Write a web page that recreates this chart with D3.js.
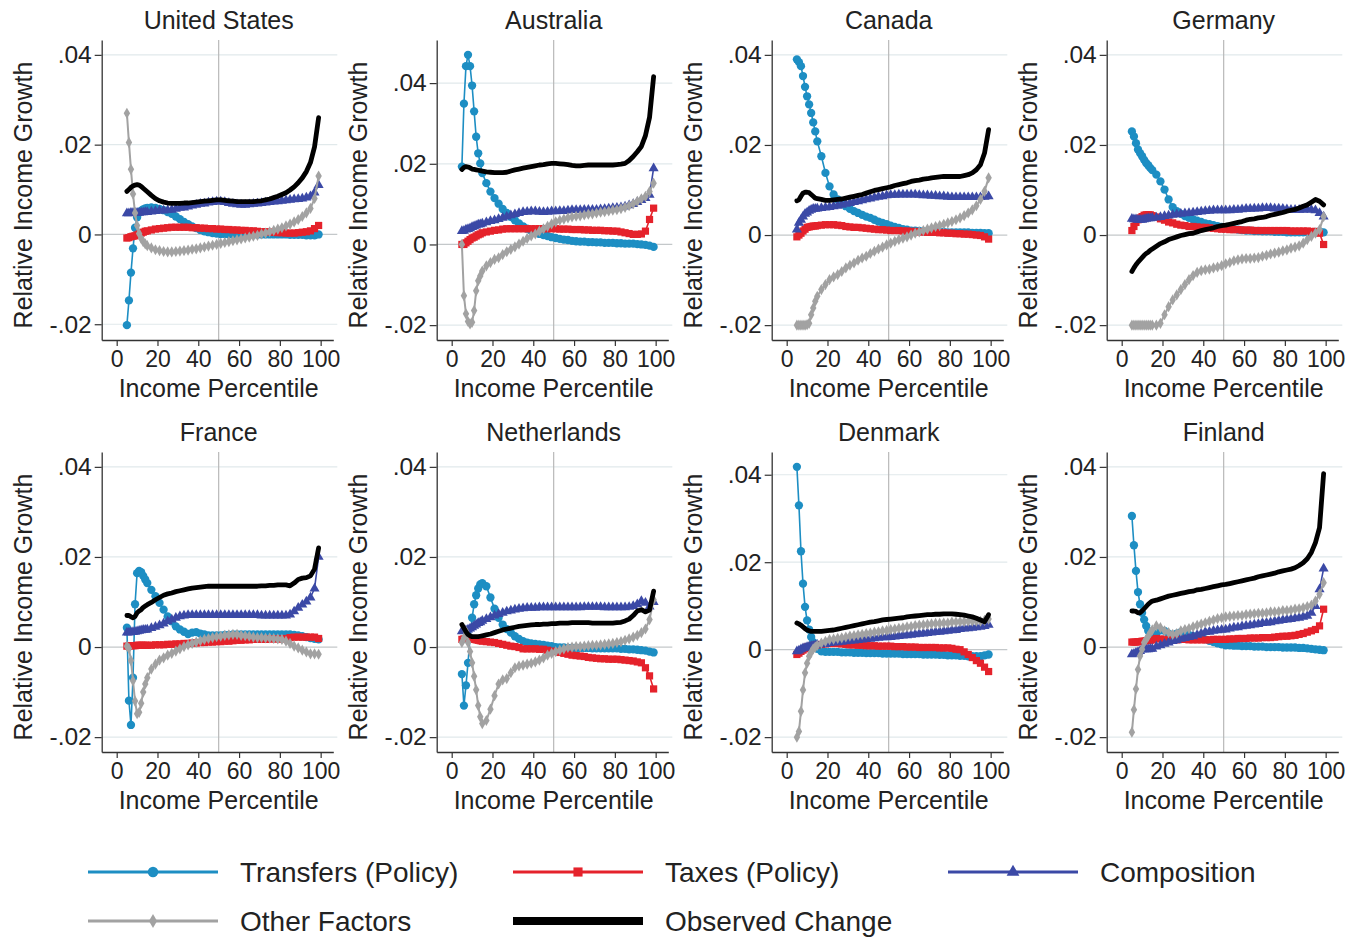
<!DOCTYPE html>
<html>
<head>
<meta charset="utf-8">
<script src="https://cdn.jsdelivr.net/npm/d3@7"></script>
<style>
body { margin: 0; background: #fff; }
svg text { font-family: "Liberation Sans", Arial, sans-serif; fill: #222; }
</style>
</head>
<body>
<svg id="chart" width="1350" height="937"></svg>
<script>
/*
 * relative income growth by percentile, 8 countries
 */

// income percentiles where the series are read
var PCTS = [5,6,7,8,9,10,11,12,13,14,15,
	17,19,21,23,25,27,29,31,33,35,37,39,41,43,45,47,49,
	51,53,55,57,59,61,63,65,67,69,71,73,75,77,79,81,83,85,87,89,91,93,95,97,99];

// all values in thousandths (9.6 means .0096)
var US_TRANSFERS = [-20.2,-14.7,-8.5,-3.1,1.5,3.8,4.8,5.3,5.6,5.8,5.9,
	6.0,5.9,5.7,5.4,5.0,4.6,4.0,3.4,2.8,2.3,1.8,1.4,1.0,0.7,0.5,0.3,0.2,
	0.1,0.1,0.0,0.0,0.0,0.0,0.0,0.0,0.0,0.0,0.0,0.0,0.0,0.0,0.0,0.0,0.0,-0.1,-0.1,-0.1,-0.1,-0.2,-0.2,-0.2,0.0];
var US_TAXES = [-0.8,-0.7,-0.5,-0.4,-0.3,-0.1,0.1,0.3,0.5,0.7,0.8,
	1.0,1.2,1.3,1.4,1.5,1.6,1.6,1.6,1.6,1.6,1.5,1.5,1.4,1.4,1.3,1.3,1.2,
	1.2,1.1,1.1,1.0,1.0,0.9,0.9,0.8,0.8,0.7,0.6,0.6,0.5,0.5,0.4,0.4,0.3,0.3,0.3,0.4,0.5,0.6,0.8,1.3,2.0];
var US_COMPOSITION = [4.7,4.7,4.8,4.8,4.8,4.8,4.8,4.9,4.9,5.0,5.0,
	5.1,5.2,5.3,5.3,5.4,5.5,5.7,5.9,6.0,6.2,6.4,6.6,6.8,6.9,7.1,7.2,7.3,
	7.3,7.2,7.0,6.8,6.7,6.6,6.6,6.7,6.8,6.9,7.0,7.1,7.2,7.3,7.4,7.5,7.6,7.7,7.8,7.9,8.0,8.2,8.5,9.3,11.0];
var US_OTHER = [27.0,20.5,14.5,9.0,4.8,2.0,0.2,-0.9,-1.6,-2.1,-2.5,
	-3.0,-3.4,-3.6,-3.8,-3.9,-3.9,-3.8,-3.7,-3.6,-3.5,-3.3,-3.2,-3.0,-2.8,-2.6,-2.4,-2.2,
	-2.0,-1.8,-1.6,-1.4,-1.2,-1.0,-0.8,-0.6,-0.4,-0.2,0.1,0.3,0.6,0.9,1.2,1.5,1.9,2.3,2.8,3.3,4.0,4.8,5.8,8.0,13.0];
var US_OBSERVED = [9.6,10.0,10.5,10.8,11.0,11.1,11.0,10.7,10.3,9.9,9.5,
	8.7,8.0,7.5,7.2,7.0,6.9,6.9,6.9,7.0,7.0,7.1,7.2,7.3,7.4,7.5,7.6,7.7,
	7.7,7.6,7.5,7.4,7.3,7.3,7.3,7.3,7.3,7.4,7.5,7.7,7.9,8.2,8.5,8.9,9.3,9.9,10.6,11.5,12.6,14.0,16.0,19.5,26.0];

var AU_TRANSFERS = [19.3,34.9,44.2,47.0,44.2,39.4,33.0,26.7,22.6,20.1,17.7,
	15.2,13.1,11.5,10.1,8.8,7.8,6.8,6.0,5.2,4.5,3.9,3.4,3.0,2.6,2.3,2.1,1.8,
	1.6,1.4,1.2,1.1,0.9,0.8,0.7,0.7,0.6,0.6,0.5,0.5,0.4,0.4,0.4,0.3,0.3,0.2,0.2,0.2,0.1,0.0,-0.1,-0.3,-0.6];
var AU_TAXES = [0.0,0.0,0.4,0.8,1.2,1.6,1.8,2.1,2.4,2.6,2.9,
	3.1,3.3,3.5,3.6,3.8,3.9,3.9,3.9,3.9,3.9,3.9,3.9,3.9,3.9,3.9,3.9,3.9,
	3.9,3.8,3.8,3.8,3.7,3.7,3.7,3.6,3.6,3.5,3.5,3.5,3.4,3.4,3.3,3.3,3.1,2.9,2.7,2.5,2.5,2.6,3.3,6.2,9.0];
var AU_COMPOSITION = [3.3,3.4,3.7,3.8,4.0,4.3,4.5,4.7,4.9,5.0,5.2,
	5.5,5.8,6.0,6.3,6.6,6.9,7.2,7.5,7.8,8.0,8.1,8.2,8.2,8.1,8.0,8.1,8.2,
	8.2,8.3,8.3,8.4,8.5,8.5,8.5,8.6,8.6,8.6,8.6,8.7,8.8,8.9,9.0,9.1,9.2,9.4,9.7,10.0,10.5,11.0,11.5,12.3,18.9];
var AU_OTHER = [0.0,-12.7,-17.2,-19.1,-19.7,-19.3,-16.4,-11.5,-9.0,-7.8,-6.6,
	-5.3,-4.5,-3.7,-3.3,-2.5,-1.8,-1.2,-0.6,0.1,0.8,1.5,2.1,2.6,3.3,3.9,4.5,5.1,
	5.6,6.0,6.3,6.6,6.8,7.0,7.1,7.3,7.5,7.6,7.8,8.0,8.1,8.3,8.5,8.6,8.9,9.2,9.6,10.1,10.7,11.3,11.9,13.1,15.2];
var AU_OBSERVED = [18.6,19.1,19.3,19.2,19.0,18.7,18.6,18.5,18.4,18.3,18.2,
	18.0,17.9,17.8,17.8,17.8,17.9,18.2,18.5,18.7,18.9,19.1,19.3,19.5,19.7,19.8,20.0,20.1,
	20.1,20.0,19.9,19.8,19.6,19.5,19.5,19.6,19.7,19.7,19.7,19.7,19.7,19.7,19.7,19.8,19.9,20.1,20.8,21.8,23.0,24.3,27.0,31.5,41.6];

var CA_TRANSFERS = [39.0,38.4,37.5,35.3,32.9,30.8,29.0,27.1,25.0,23.0,20.8,
	17.5,13.8,10.8,9.0,7.9,7.0,6.4,5.8,5.3,4.9,4.5,4.1,3.8,3.4,3.0,2.7,2.4,
	2.1,1.8,1.6,1.3,1.2,1.0,1.0,0.9,0.8,0.8,0.7,0.7,0.7,0.7,0.6,0.6,0.6,0.6,0.6,0.6,0.5,0.5,0.5,0.4,0.4];
var CA_TAXES = [-0.4,0.0,0.4,0.9,1.3,1.7,1.8,1.9,2.0,2.0,2.1,
	2.2,2.3,2.3,2.3,2.2,2.1,1.9,1.8,1.7,1.7,1.6,1.5,1.4,1.3,1.2,1.2,1.1,
	1.0,1.0,1.0,0.9,0.9,0.8,0.8,0.7,0.7,0.6,0.6,0.6,0.5,0.5,0.4,0.4,0.3,0.3,0.2,0.2,0.1,0.0,-0.1,-0.4,-0.9];
var CA_COMPOSITION = [1.2,2.7,3.4,4.1,4.7,5.0,5.4,5.6,5.8,5.8,5.9,
	6.0,6.1,6.2,6.4,6.5,6.7,6.9,7.1,7.3,7.5,7.7,7.9,8.1,8.3,8.5,8.6,8.8,
	8.9,8.9,9.0,9.0,9.0,9.0,9.0,8.9,8.8,8.8,8.7,8.7,8.6,8.6,8.5,8.4,8.4,8.4,8.4,8.4,8.4,8.4,8.4,8.5,8.6];
var CA_OTHER = [-20.0,-20.0,-20.0,-20.0,-20.0,-19.9,-19.6,-17.7,-16.2,-14.7,-13.6,
	-12.1,-11.0,-9.9,-9.3,-8.8,-8.1,-7.3,-6.7,-6.2,-5.6,-5.1,-4.7,-4.1,-3.6,-3.1,-2.7,-2.2,
	-1.8,-1.4,-1.0,-0.7,-0.4,0.0,0.4,0.7,1.0,1.3,1.6,1.9,2.1,2.4,2.7,3.0,3.4,3.8,4.3,4.9,5.6,6.5,7.9,9.7,12.7];
var CA_OBSERVED = [7.6,7.8,8.6,9.3,9.5,9.5,9.4,9.0,8.6,8.2,8.1,
	7.9,7.7,7.7,7.8,7.9,8.0,8.2,8.4,8.6,8.8,9.0,9.3,9.6,9.9,10.1,10.3,10.5,
	10.7,11.0,11.2,11.4,11.6,11.9,12.1,12.2,12.4,12.5,12.7,12.8,12.9,13.0,13.0,13.0,13.0,13.0,13.2,13.4,13.8,14.5,15.6,18.2,23.4];

var DE_TRANSFERS = [23.0,21.9,20.4,19.0,18.2,17.5,16.7,16.0,15.5,14.9,14.4,
	13.4,11.9,10.1,7.9,6.2,5.3,4.7,4.2,3.8,3.5,3.2,2.9,2.6,2.4,2.2,2.0,1.8,
	1.6,1.5,1.3,1.2,1.1,1.0,1.0,0.9,0.9,0.8,0.8,0.8,0.7,0.7,0.7,0.6,0.6,0.6,0.6,0.6,0.6,0.6,0.7,0.8,0.6];
var DE_TAXES = [1.0,1.9,2.8,3.4,3.8,4.1,4.4,4.5,4.5,4.5,4.3,
	4.0,3.6,3.3,2.9,2.7,2.4,2.2,2.1,1.9,1.9,1.8,1.7,1.7,1.6,1.5,1.4,1.3,
	1.3,1.2,1.2,1.2,1.1,1.1,1.1,1.0,1.0,1.0,1.0,1.0,1.0,1.0,1.0,1.0,0.9,0.9,0.9,0.9,0.9,0.8,0.8,0.4,-2.1];
var DE_COMPOSITION = [3.6,3.5,3.5,3.4,3.4,3.4,3.5,3.6,3.7,3.7,3.8,
	3.9,4.0,4.2,4.3,4.5,4.6,4.7,4.8,4.9,5.0,5.1,5.2,5.3,5.4,5.5,5.5,5.5,
	5.5,5.5,5.6,5.6,5.7,5.8,5.8,5.9,5.9,6.0,6.0,6.0,5.9,5.9,5.8,5.7,5.6,5.6,5.6,5.6,5.7,5.6,5.5,4.9,4.1];
var DE_OTHER = [-20.0,-20.0,-20.0,-20.0,-20.0,-20.0,-20.0,-20.0,-20.0,-20.0,-20.0,
	-20.0,-19.6,-17.7,-15.9,-14.4,-13.3,-12.1,-11.0,-9.9,-9.0,-8.3,-7.9,-7.7,-7.6,-7.3,-7.1,-6.8,
	-6.4,-6.1,-5.7,-5.5,-5.3,-5.2,-5.2,-5.1,-5.0,-4.7,-4.5,-4.2,-4.0,-3.8,-3.5,-3.3,-2.9,-2.7,-2.4,-1.8,-1.0,-0.3,0.4,1.2,4.1];
var DE_OBSERVED = [-8.1,-7.3,-6.6,-6.0,-5.5,-5.0,-4.5,-4.1,-3.8,-3.4,-3.1,
	-2.5,-1.9,-1.5,-1.0,-0.7,-0.4,-0.1,0.1,0.3,0.4,0.7,1.0,1.2,1.4,1.6,1.9,2.1,
	2.2,2.4,2.6,2.8,3.0,3.3,3.5,3.6,3.8,3.9,4.1,4.4,4.6,4.8,5.0,5.3,5.5,5.7,6.0,6.4,6.7,7.3,7.9,7.5,6.7];

var FR_TRANSFERS = [4.3,-11.9,-17.3,-6.8,9.5,16.4,16.9,16.6,15.8,15.0,14.2,
	12.7,11.3,9.8,8.3,6.8,5.7,4.6,3.9,3.4,2.9,3.2,3.3,3.0,2.8,2.6,2.6,2.6,
	2.6,2.7,2.7,2.8,2.8,2.8,2.8,2.8,2.8,2.8,2.8,2.8,2.8,2.8,2.8,2.8,2.8,2.8,2.7,2.6,2.4,2.2,2.0,1.8,1.7];
var FR_TAXES = [0.2,0.2,0.3,0.3,0.3,0.4,0.4,0.4,0.4,0.4,0.4,
	0.4,0.5,0.5,0.5,0.6,0.6,0.7,0.7,0.8,0.8,0.9,0.9,1.0,1.0,1.1,1.1,1.2,
	1.2,1.3,1.3,1.4,1.5,1.5,1.6,1.6,1.7,1.7,1.7,1.7,1.8,1.8,1.8,1.8,1.9,2.1,2.2,2.2,2.2,2.2,2.2,2.2,1.9];
var FR_COMPOSITION = [3.2,3.2,3.3,3.3,3.4,3.5,3.6,3.7,3.8,3.8,3.9,
	4.2,4.5,4.8,5.2,5.7,6.1,6.5,6.8,7.0,7.1,7.1,7.1,7.1,7.1,7.1,7.1,7.1,
	7.1,7.1,7.1,7.1,7.1,7.1,7.1,7.1,7.1,7.1,7.0,7.0,7.0,7.0,7.0,7.0,7.0,7.2,7.9,8.7,9.4,10.1,11.0,13.0,20.0];
var FR_OTHER = [0.2,-0.3,-3.0,-7.5,-12.0,-14.8,-14.5,-12.5,-10.0,-8.2,-6.8,
	-4.9,-3.8,-2.9,-2.4,-1.8,-1.4,-0.9,-0.4,0.1,0.5,0.8,1.1,1.4,1.7,1.9,2.1,2.3,
	2.4,2.6,2.7,2.8,2.8,2.6,2.5,2.4,2.2,2.1,2.1,2.0,2.0,1.9,1.8,1.7,1.3,0.8,0.2,-0.2,-0.7,-1.1,-1.5,-1.5,-1.6];
var FR_OBSERVED = [7.0,7.0,6.7,6.5,6.8,7.6,8.0,8.3,8.8,9.1,9.4,
	9.9,10.5,11.0,11.5,11.8,12.0,12.3,12.5,12.7,12.9,13.1,13.2,13.3,13.4,13.5,13.5,13.5,
	13.5,13.5,13.5,13.5,13.5,13.5,13.5,13.5,13.5,13.5,13.6,13.6,13.7,13.7,13.8,13.8,13.8,13.6,14.2,15.0,15.3,15.4,15.8,17.3,22.0];

var NL_TRANSFERS = [-6.0,-13.0,-8.5,-3.5,2.0,6.5,9.5,11.5,13.0,13.9,14.2,
	13.5,11.0,8.5,6.5,5.0,4.0,3.2,2.4,1.8,1.3,1.0,0.8,0.7,0.6,0.5,0.3,0.2,
	0.0,-0.1,-0.1,-0.2,-0.2,-0.2,-0.2,-0.2,-0.2,-0.3,-0.3,-0.3,-0.3,-0.3,-0.3,-0.3,-0.4,-0.4,-0.5,-0.5,-0.6,-0.7,-0.8,-1.0,-1.2];
var NL_TAXES = [1.7,1.8,1.8,1.8,1.7,1.7,1.7,1.6,1.5,1.4,1.3,
	1.2,1.1,1.0,0.8,0.6,0.4,0.2,0.1,-0.1,-0.4,-0.4,-0.4,-0.4,-0.5,-0.5,-0.7,-0.9,
	-1.0,-1.2,-1.4,-1.6,-1.8,-1.9,-2.0,-2.1,-2.3,-2.4,-2.5,-2.6,-2.6,-2.7,-2.7,-2.7,-2.8,-2.9,-3.0,-3.1,-3.3,-3.5,-4.6,-6.4,-9.3];
var NL_COMPOSITION = [3.5,3.6,3.7,3.9,4.1,4.4,4.7,5.0,5.3,5.5,5.8,
	6.2,6.6,7.0,7.3,7.6,7.9,8.1,8.3,8.5,8.6,8.7,8.7,8.7,8.8,8.8,8.8,8.8,
	8.8,8.8,8.8,8.8,8.8,8.8,8.8,8.9,8.9,8.9,8.9,8.9,8.8,8.8,8.8,8.8,8.8,8.8,8.9,9.1,9.5,10.2,9.8,9.0,10.0];
var NL_OTHER = [1.0,2.0,3.5,1.0,-1.0,-3.5,-6.5,-9.5,-13.0,-15.5,-17.0,
	-16.3,-13.8,-10.8,-8.2,-7.3,-7.0,-5.7,-4.6,-4.2,-4.0,-3.8,-3.6,-3.3,-2.9,-2.4,-1.8,-1.4,
	-1.0,-0.7,-0.4,-0.1,0.0,0.1,0.1,0.2,0.3,0.4,0.4,0.5,0.6,0.7,0.8,1.0,1.2,1.5,1.8,2.2,2.6,3.2,4.0,6.1,10.5];
var NL_OBSERVED = [5.0,4.2,3.4,2.8,2.5,2.3,2.3,2.3,2.3,2.4,2.5,
	2.7,2.9,3.2,3.5,3.8,4.0,4.2,4.4,4.6,4.7,4.8,4.9,5.0,5.0,5.1,5.1,5.2,
	5.2,5.3,5.3,5.3,5.4,5.4,5.4,5.4,5.4,5.3,5.3,5.3,5.3,5.3,5.3,5.4,5.5,5.8,6.2,7.0,8.0,8.3,7.8,8.2,12.4];

var DK_TRANSFERS = [41.8,33.0,22.5,15.1,9.8,6.7,4.6,2.9,1.7,0.8,0.2,
	-0.4,-0.5,-0.5,-0.5,-0.5,-0.6,-0.6,-0.6,-0.7,-0.7,-0.7,-0.8,-0.8,-0.8,-0.8,-0.9,-0.9,
	-0.9,-0.9,-0.9,-1.0,-1.0,-1.0,-1.0,-1.0,-1.1,-1.1,-1.1,-1.1,-1.2,-1.2,-1.3,-1.3,-1.3,-1.4,-1.4,-1.5,-1.5,-1.5,-1.5,-1.3,-1.1];
var DK_TAXES = [-1.1,-0.8,-0.4,-0.1,0.2,0.6,0.7,0.8,0.9,1.0,1.1,
	1.2,1.3,1.4,1.4,1.4,1.3,1.2,1.1,1.1,1.0,1.0,0.9,0.9,0.9,0.8,0.8,0.8,
	0.8,0.7,0.7,0.7,0.6,0.6,0.6,0.5,0.5,0.5,0.5,0.5,0.4,0.4,0.4,0.3,0.1,0.0,-0.5,-1.1,-1.8,-2.5,-3.1,-4.0,-5.0];
var DK_COMPOSITION = [-0.4,-0.2,0.1,0.3,0.4,0.6,0.7,0.8,0.9,1.0,1.1,
	1.2,1.3,1.5,1.6,1.7,1.8,1.9,2.0,2.1,2.2,2.3,2.4,2.5,2.6,2.7,2.8,2.8,
	2.9,3.0,3.1,3.2,3.3,3.4,3.5,3.6,3.7,3.8,3.9,4.0,4.1,4.2,4.3,4.4,4.5,4.7,4.8,4.9,5.0,5.1,5.2,5.4,5.7];
var DK_OTHER = [-20.0,-18.7,-14.1,-9.2,-5.3,-3.1,-1.5,-0.6,0.2,0.6,1.0,
	1.5,1.9,2.3,2.4,2.6,2.7,2.9,3.1,3.2,3.4,3.5,3.7,3.8,4.0,4.1,4.3,4.4,
	4.6,4.7,4.9,5.0,5.2,5.3,5.5,5.6,5.7,5.8,5.9,6.0,6.0,6.1,6.1,6.3,6.3,6.4,6.4,6.5,6.5,6.5,6.5,6.7,7.0];
var DK_OBSERVED = [6.1,5.9,5.6,5.2,4.8,4.5,4.3,4.2,4.2,4.2,4.2,
	4.2,4.3,4.4,4.5,4.7,4.9,5.1,5.3,5.5,5.7,5.9,6.1,6.3,6.4,6.6,6.8,6.9,
	7.0,7.1,7.2,7.3,7.5,7.6,7.7,7.8,7.9,8.0,8.0,8.1,8.1,8.2,8.2,8.2,8.1,8.0,7.9,7.7,7.5,7.2,6.8,6.4,8.0];

var FI_TRANSFERS = [29.1,22.6,16.9,12.2,9.5,7.6,6.1,4.7,3.6,2.8,2.4,
	3.0,3.7,3.6,3.0,2.4,3.0,3.3,3.0,2.7,2.4,2.2,2.0,1.7,1.4,1.1,0.8,0.6,
	0.4,0.4,0.3,0.3,0.2,0.2,0.2,0.1,0.1,0.1,0.0,0.0,0.0,0.0,-0.1,-0.1,-0.1,-0.1,-0.2,-0.2,-0.3,-0.4,-0.5,-0.6,-0.7];
var FI_TAXES = [1.1,1.1,1.1,1.2,1.2,1.3,1.3,1.4,1.5,1.5,1.6,
	1.9,1.8,1.7,1.6,1.6,1.6,1.7,1.7,1.6,1.6,1.6,1.6,1.6,1.6,1.7,1.7,1.7,
	1.7,1.8,1.8,1.9,1.9,1.9,2.0,2.0,2.0,2.1,2.1,2.1,2.2,2.3,2.4,2.4,2.5,2.6,2.8,3.0,3.3,3.6,3.9,4.7,8.4];
var FI_COMPOSITION = [-1.6,-1.5,-1.3,-1.1,-0.9,-0.5,-0.5,-0.5,-0.5,-0.4,-0.4,
	0.1,0.4,0.7,1.0,1.3,1.5,1.8,2.0,2.2,2.4,2.7,3.0,3.3,3.4,3.6,3.7,3.8,
	3.9,4.1,4.3,4.4,4.6,4.7,4.8,5.0,5.1,5.3,5.4,5.5,5.7,5.8,6.0,6.1,6.2,6.4,6.5,6.7,6.9,7.6,9.1,12.8,17.4];
var FI_OTHER = [-18.9,-13.9,-9.3,-5.0,-2.0,-0.5,1.0,1.7,2.4,3.2,3.8,
	4.7,4.3,3.6,3.2,2.8,3.0,3.6,3.9,4.1,4.5,4.8,5.1,5.4,5.7,6.0,6.3,6.5,
	6.7,6.8,6.9,7.0,7.0,7.2,7.3,7.4,7.5,7.5,7.6,7.8,7.8,7.9,8.1,8.1,8.2,8.4,8.5,8.7,9.0,9.3,10.2,11.7,14.3];
var FI_OBSERVED = [8.0,8.0,7.9,7.6,7.6,8.0,8.5,9.0,9.5,9.9,10.2,
	10.4,10.7,11.0,11.3,11.5,11.7,11.9,12.1,12.3,12.4,12.7,12.8,13.0,13.2,13.4,13.6,13.8,
	13.9,14.1,14.3,14.5,14.7,14.9,15.1,15.3,15.6,15.8,16.0,16.2,16.4,16.7,16.9,17.1,17.3,17.6,18.1,18.7,19.6,21.0,23.2,26.5,38.5];

var COUNTRY_NAMES = ["United States", "Australia", "Canada", "Germany",
	"France", "Netherlands", "Denmark", "Finland"];

var COUNTRY_DATA = [
	[US_TRANSFERS, US_TAXES, US_COMPOSITION, US_OTHER, US_OBSERVED],
	[AU_TRANSFERS, AU_TAXES, AU_COMPOSITION, AU_OTHER, AU_OBSERVED],
	[CA_TRANSFERS, CA_TAXES, CA_COMPOSITION, CA_OTHER, CA_OBSERVED],
	[DE_TRANSFERS, DE_TAXES, DE_COMPOSITION, DE_OTHER, DE_OBSERVED],
	[FR_TRANSFERS, FR_TAXES, FR_COMPOSITION, FR_OTHER, FR_OBSERVED],
	[NL_TRANSFERS, NL_TAXES, NL_COMPOSITION, NL_OTHER, NL_OBSERVED],
	[DK_TRANSFERS, DK_TAXES, DK_COMPOSITION, DK_OTHER, DK_OBSERVED],
	[FI_TRANSFERS, FI_TAXES, FI_COMPOSITION, FI_OTHER, FI_OBSERVED]
];

var SERIES_LABELS = ["Transfers (Policy)", "Taxes (Policy)", "Composition", "Other Factors", "Observed Change"];

var Y_TICKS = [-0.02, 0, 0.02, 0.04];
var X_TICKS = [0, 20, 40, 60, 80, 100];

// look of each series, same order as the labels
var SERIES_STYLE = [
	{ color: "#1d8ec3", width: 1.6, symbol: d3.symbolCircle, size: 54 },
	{ color: "#e5222b", width: 1.6, symbol: d3.symbolSquare, size: 52 },
	{ color: "#3b49a6", width: 1.6, symbol: d3.symbolTriangle, size: 44 },
	{ color: "#a2a2a2", width: 2.0, symbol: d3.symbolDiamond, size: 36 },
	{ color: "#000000", width: 4.8, symbol: null, size: 0 }
];

var PLOT_W = 231.6;
var PLOT_H = 300;
var AXIS_COLOR = "#333";

var svg = d3.select("#chart");

function formatTick(d) {
	if (d == 0) {
		return "0";
	}
	return (d < 0 ? "-" : "") + d3.format(".2f")(Math.abs(d)).replace(/^0/, "");
}

function drawPanel(name, series, left, top) {

	var g = svg.append("g");

	var all = d3.merge(series).map(function(v) { return v / 1000; });
	var lo = Math.min(-0.02, d3.min(all));
	var hi = Math.max(0.04, d3.max(all));
	var pad = (hi - lo) * 0.055;

	var x = d3.scaleLinear()
		.domain([-7.35, 106.2])
		.range([left, left + PLOT_W]);

	var y = d3.scaleLinear()
		.domain([lo - pad, hi + pad])
		.range([top + PLOT_H, top]);

	// grid lines
	g.selectAll(".grid")
		.data(Y_TICKS)
		.enter()
		.append("line")
		.attr("x1", left)
		.attr("x2", left + PLOT_W + 4)
		.attr("y1", function(d) { return y(d); })
		.attr("y2", function(d) { return y(d); })
		.attr("stroke", function(d) { return d == 0 ? "#c4c8ca" : "#e1e9eb"; })
		.attr("stroke-width", 1.2);

	// median line
	g.append("line")
		.attr("x1", x(50))
		.attr("x2", x(50))
		.attr("y1", top)
		.attr("y2", top + PLOT_H)
		.attr("stroke", "#b9b9b9")
		.attr("stroke-width", 1.2);

	var line = d3.line()
		.x(function(d) { return x(d[0]); })
		.y(function(d) { return y(d[1]); });

	series.forEach(function(vals, k) {
		var st = SERIES_STYLE[k];
		var pts = PCTS.map(function(p, j) { return [p, vals[j] / 1000]; });

		g.append("path")
			.datum(pts)
			.attr("d", line)
			.attr("fill", "none")
			.attr("stroke", st.color)
			.attr("stroke-width", st.width)
			.attr("stroke-linejoin", "round")
			.attr("stroke-linecap", "round");

		if (st.symbol) {
			g.selectAll(null)
				.data(pts)
				.enter()
				.append("path")
				.attr("d", d3.symbol().type(st.symbol).size(st.size))
				.attr("transform", function(d) { return "translate(" + x(d[0]) + "," + y(d[1]) + ")"; })
				.attr("fill", st.color);
		}
	});

	// axes
	var yAxis = d3.axisLeft(y)
		.tickValues(Y_TICKS)
		.tickFormat(formatTick)
		.tickSize(7)
		.tickSizeOuter(0)
		.tickPadding(3);

	var xAxis = d3.axisBottom(x)
		.tickValues(X_TICKS)
		.tickSize(6)
		.tickSizeOuter(0)
		.tickPadding(4);

	var ya = g.append("g")
		.attr("transform", "translate(" + left + ",0)")
		.call(yAxis);

	var xa = g.append("g")
		.attr("transform", "translate(0," + (top + PLOT_H) + ")")
		.call(xAxis);

	[ya, xa].forEach(function(a) {
		a.select(".domain").attr("stroke", AXIS_COLOR).attr("stroke-width", 1.3);
		a.selectAll(".tick line").attr("stroke", AXIS_COLOR).attr("stroke-width", 1.2);
		a.selectAll(".tick text")
			.attr("font-family", "Liberation Sans, Arial, sans-serif")
			.style("fill", "#222");
	});

	ya.selectAll(".tick text").attr("font-size", 24.5);

	xa.selectAll(".tick text")
		.attr("font-size", 23)
		.attr("y", 27)
		.attr("dy", 0);

	// titles
	g.append("text")
		.attr("x", left + 117)
		.attr("y", top - 11)
		.attr("text-anchor", "middle")
		.attr("font-size", 25)
		.text(name);

	g.append("text")
		.attr("x", left + 117)
		.attr("y", top + PLOT_H + 57)
		.attr("text-anchor", "middle")
		.attr("font-size", 25)
		.text("Income Percentile");

	g.append("text")
		.attr("transform", "translate(" + (left - 70) + "," + (top + 155) + ") rotate(-90)")
		.attr("text-anchor", "middle")
		.attr("font-size", 25)
		.text("Relative Income Growth");
}

function drawLegend() {
	var colX = [88, 513, 948];
	var rowY = [872, 921];
	var keyW = 130;

	SERIES_LABELS.forEach(function(label, k) {
		var st = SERIES_STYLE[k];
		var cx = colX[k % 3];
		var cy = rowY[Math.floor(k / 3)];
		var g = svg.append("g");

		g.append("line")
			.attr("x1", cx)
			.attr("x2", cx + keyW)
			.attr("y1", cy)
			.attr("y2", cy)
			.attr("stroke", st.color)
			.attr("stroke-width", st.symbol ? 3 : 8);

		if (st.symbol) {
			g.append("path")
				.attr("d", d3.symbol().type(st.symbol).size(st.size * 1.6))
				.attr("transform", "translate(" + (cx + keyW / 2) + "," + cy + ")")
				.attr("fill", st.color);
		}

		g.append("text")
			.attr("x", cx + 152)
			.attr("y", cy)
			.attr("dy", "0.36em")
			.attr("font-size", 28)
			.text(label);
	});
}

COUNTRY_NAMES.forEach(function(name, i) {
	var left = 101.7 + 335 * (i % 4);
	var top = 40 + 412 * Math.floor(i / 4);
	drawPanel(name, COUNTRY_DATA[i], left, top);
});

drawLegend();
</script>
</body>
</html>
